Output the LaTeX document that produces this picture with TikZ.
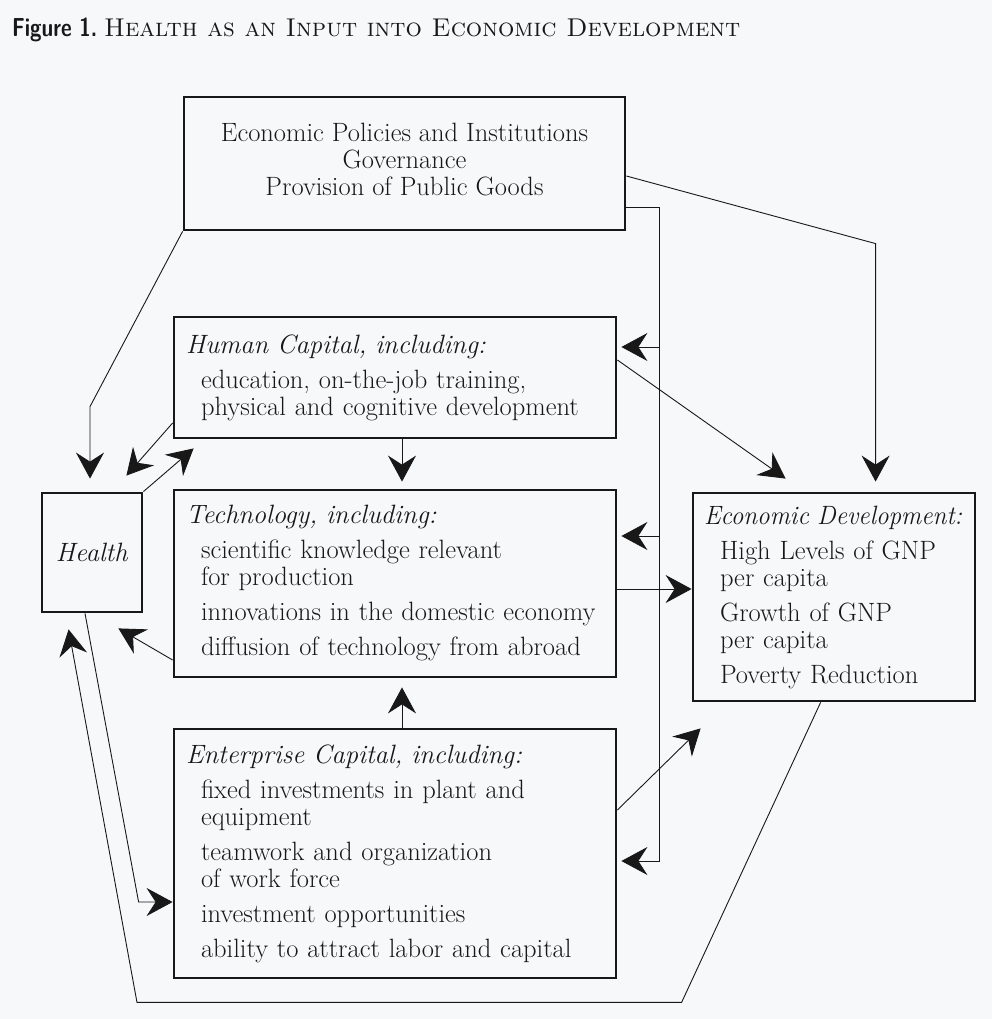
\documentclass[tikz,border=0pt]{standalone}
\usetikzlibrary{arrows.meta,calc}
\definecolor{bgc}{RGB}{247,248,250}
\definecolor{ink}{RGB}{24,24,24}
\begin{document}
\begin{tikzpicture}[x=1pt,y=-1pt,
  box/.style={draw=ink, line width=2.8pt, rectangle, inner sep=0pt, text=ink,
     font=\fontsize{26.5}{27}\selectfont},
  conn/.style={draw=ink, line width=0.9pt},
  arr/.style={conn, -{Stealth[length=26pt,width=28pt,inset=9pt]}},
]
\fill[bgc] (0,0) rectangle (992,1019);
\useasboundingbox (0,0) rectangle (992,1019);

% title
\node[anchor=base west, inner sep=0pt, text=ink] (title) at (12,37)
  {\scalebox{0.8}[1]{\fontsize{26}{26}\selectfont\sffamily\bfseries Figure 1.}\hspace{7pt}{\fontsize{25.7}{27}\selectfont\textsc{Health as an Input into Economic Development}}};

% boxes
\node[box, minimum width=441pt, minimum height=133pt, align=center] (pol) at (404.5,163.5)
  {Economic Policies and Institutions\\Governance\\Provision of Public Goods\\[-19pt]\mbox{}};

\node[box, minimum width=442pt, minimum height=121pt, align=left, text width=418pt] (hc) at (395,377.5)
  {\textit{Human Capital, including:}\\[8pt]
   \hspace*{15pt}education, on-the-job training,\\
   \hspace*{15pt}physical and cognitive development};

\node[box, minimum width=442pt, minimum height=187pt, align=left, text width=418pt] (tech) at (395,583.5)
  {\textit{Technology, including:}\\[8pt]
   \hspace*{15pt}scientific knowledge relevant\\
   \hspace*{15pt}for production\\[8pt]
   \hspace*{15pt}innovations in the domestic economy\\[8pt]
   \hspace*{15pt}diffusion of technology from abroad};

\node[box, minimum width=442pt, minimum height=249pt, align=left, text width=418pt] (ent) at (395,853.5)
  {\textit{Enterprise Capital, including:}\\[8pt]
   \hspace*{15pt}fixed investments in plant and\\
   \hspace*{15pt}equipment\\[8pt]
   \hspace*{15pt}teamwork and organization\\
   \hspace*{15pt}of work force\\[8pt]
   \hspace*{15pt}investment opportunities\\[8pt]
   \hspace*{15pt}ability to attract labor and capital};

\node[box, minimum width=282pt, minimum height=208pt, align=left, text width=260pt] (econ) at (834,597)
  {\mbox{\scalebox{0.95}[1]{\textit{Economic Development:}}}\\[8pt]
   \hspace*{16pt}\mbox{High Levels of GNP}\\
   \hspace*{16pt}per capita\\[8pt]
   \hspace*{16pt}Growth of GNP\\
   \hspace*{16pt}per capita\\[8pt]
   \hspace*{16pt}Poverty Reduction};

\node[box, minimum width=100pt, minimum height=119pt] (health) at (92,552.5) {\textit{Health}};

% connectors
% policies -> health
\draw[arr, shorten >=13pt] (pol.south west) -- ($(health.north)+(-2,-85)$) -- ($(health.north)+(-2,0)$);
% human capital -> health
\draw[arr] ($(hc.west)+(0,45.5)$) -- ($(health.north east)+(-17,-16)$);
% health -> human capital
\draw[arr] (health.north east) -- ($(hc.south west)+(21,9)$);
% human capital -> technology
\draw[arr, shorten >=7pt] ($(hc.south)+(7,0)$) -- ($(tech.north)+(7,0)$);
% technology -> health
\draw[arr] ($(tech.west)+(0,76.5)$) -- ($(health.south east)+(-25,15)$);
% enterprise -> technology
\draw[arr, shorten >=9pt] ($(ent.north)+(7,0)$) -- ($(tech.south)+(7,0)$);
% health -> enterprise
\draw[arr] ($(health.south)+(-7,0)$) -- ($(ent.west)+(-34,48.5)$) -- ($(ent.west)+(0,48.5)$);
% economic development -> health
\coordinate (fb1) at ($(econ.south west)+(-10,300)$);
\coordinate (fb2) at ($(health.south)+(45,389)$);
\draw[arr] ($(econ.south west)+(129,0)$) -- (fb1) -- (fb2) -- ($(health.south west)+(28,16)$);
% policies -> economic development
\draw[arr, shorten >=10pt] ($(pol.east)+(0,12.5)$) -- ($(econ.north west)+(184,-248)$) -- ($(econ.north west)+(184,0)$);
% policies -> bus -> hc, tech, enterprise
\coordinate (bus) at ($(pol.east)+(33,43.5)$);
\draw[arr, shorten >=4pt] ($(pol.east)+(0,43.5)$) -- (bus) |- ($(ent.east)+(0,7.5)$);
\draw[arr, shorten >=4pt] ($(hc.east)+(42,-30.5)$) -- ($(hc.east)+(0,-30.5)$);
\draw[arr, shorten >=4pt] ($(tech.east)+(42,-47.5)$) -- ($(tech.east)+(0,-47.5)$);
% human capital -> economic development
\draw[arr] ($(hc.east)+(0,-17.5)$) -- ($(econ.north west)+(94,-13)$);
% technology -> economic development
\draw[arr] ($(tech.east)+(0,5.5)$) -- ($(econ.west)+(0,-8)$);
% enterprise -> economic development
\draw[arr] ($(ent.east)+(0,-43.5)$) -- ($(econ.south west)+(9,26)$);
\end{tikzpicture}
\end{document}
